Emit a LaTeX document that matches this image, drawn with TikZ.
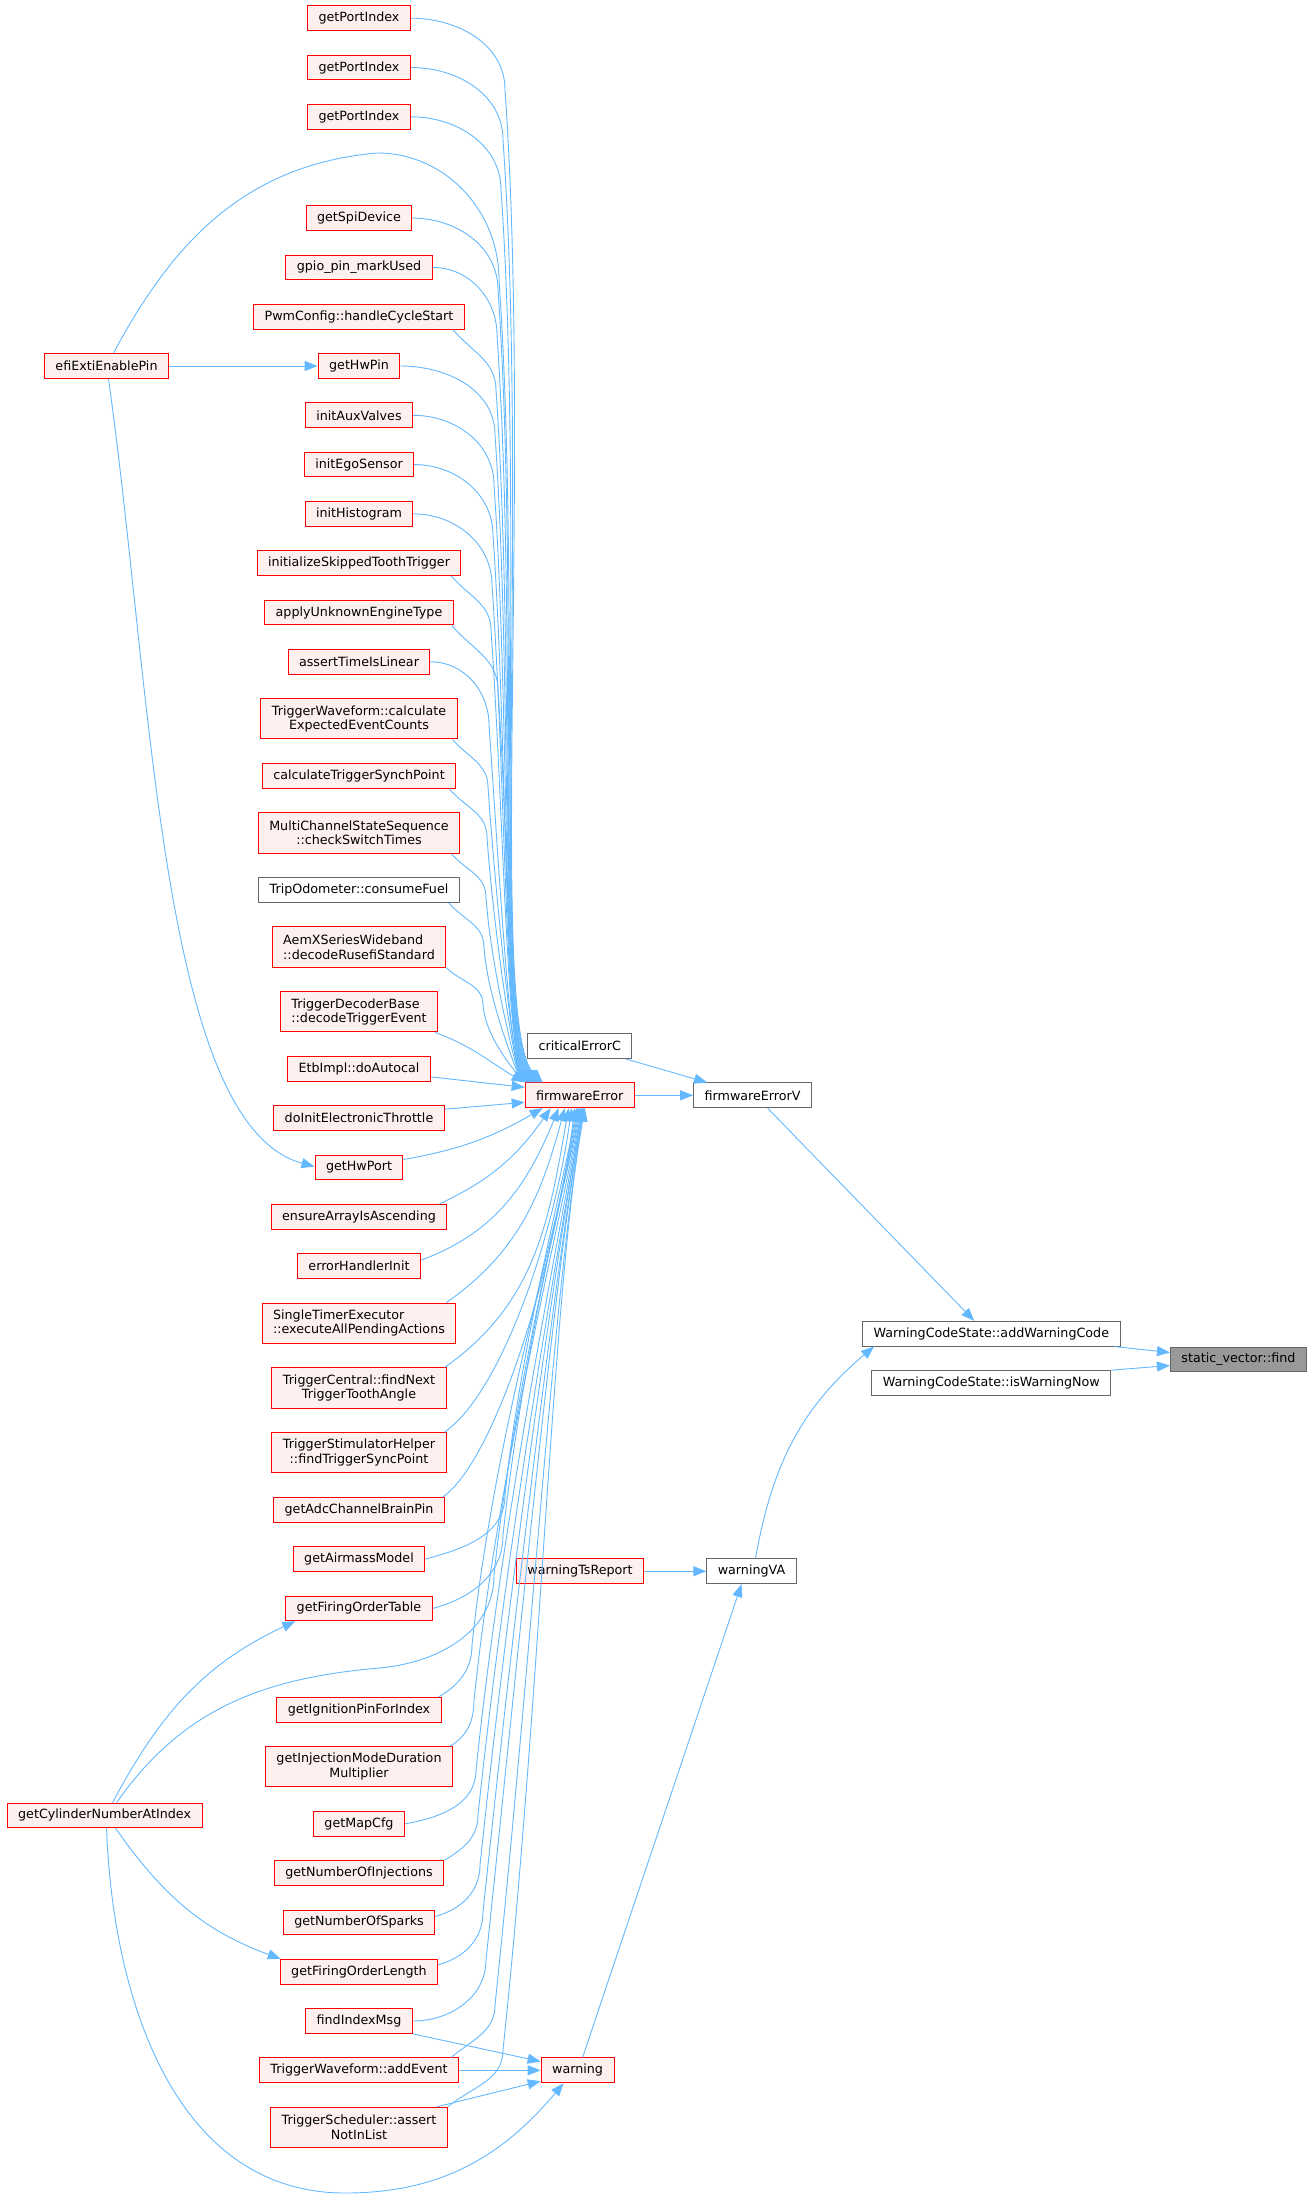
\documentclass[tikz,border=0pt]{standalone}
\usepackage{fontspec}
\setmainfont{DejaVu Sans}
\usepackage{tikz}
\usetikzlibrary{arrows.meta, positioning}
\definecolor{edgeblue}{HTML}{63B8FF}
\definecolor{nodered}{HTML}{FF0000}
\definecolor{fillred}{HTML}{FFF0F0}
\definecolor{greyline}{HTML}{666666}
\definecolor{rootfill}{HTML}{999999}
\tikzset{
	font={\fontsize{12.7}{14.6}\selectfont}}
\tikzstyle{fn_base} = [rectangle, minimum height=24.7pt, inner xsep=11pt, inner ysep=2pt, align=center, line width=1pt]
\tikzstyle{fn_red} = [fn_base, draw=nodered, fill=fillred]
\tikzstyle{fn_grey} = [fn_base, draw=greyline, fill=white]
\tikzstyle{fn_root} = [fn_base, draw=greyline, fill=rootfill]
\tikzstyle{two_line} = [minimum height=40.2pt]
\tikzstyle{arrow} = [line width=0.9pt, draw=edgeblue, -{Triangle[length=13pt, width=10pt]}]
\tikzstyle{turn_down} = [out=0, in=90]
\tikzstyle{into_top} = [out=-86, in=135, in looseness=0.2]
\tikzstyle{turn_up} = [out=0, in=-90]
\tikzstyle{into_bottom} = [out=84, in=-100, in looseness=0.5]

\begin{document}
\begin{tikzpicture}[x=1pt, y=1pt, node distance=23.6pt]
\useasboundingbox (0,0) rectangle (1313,-2198);

% callers, middle column
\node[fn_red] (gp1) at (359,-18.2) {getPortIndex};
\node[fn_red, below=of gp1] (gp2) {getPortIndex};
\node[fn_red, below=of gp2] (gp3) {getPortIndex};
\node[fn_red, below=75.6pt of gp3] (gspi) {getSpiDevice};
\node[fn_red, below=of gspi] (gpio) {gpio\_pin\_markUsed};
\node[fn_red, below=of gpio] (pwm) {PwmConfig::handleCycleStart};
\node[fn_red, below=of pwm] (ghpin) {getHwPin};
\node[fn_red, below=of ghpin] (iaux) {initAuxValves};
\node[fn_red, below=of iaux] (iego) {initEgoSensor};
\node[fn_red, below=of iego] (ihist) {initHistogram};
\node[fn_red, below=of ihist] (iskip) {initializeSkippedToothTrigger};
\node[fn_red, below=of iskip] (aunk) {applyUnknownEngineType};
\node[fn_red, below=of aunk] (atil) {assertTimeIsLinear};
\node[fn_red, two_line, below=of atil] (twce) {TriggerWaveform::calculate\\ExpectedEventCounts};
\node[fn_red, below=of twce] (ctsp) {calculateTriggerSynchPoint};
\node[fn_red, two_line, below=of ctsp] (mcss) {MultiChannelStateSequence\\::checkSwitchTimes};
\node[fn_grey, below=of mcss] (trip) {TripOdometer::consumeFuel};
\node[fn_red, two_line, align=left, below=of trip] (aemx) {AemXSeriesWideband\\::decodeRusefiStandard};
\node[fn_red, two_line, align=left, below=of aemx] (tdec) {TriggerDecoderBase\\::decodeTriggerEvent};
\node[fn_red, below=of tdec] (etb) {EtbImpl::doAutocal};
\node[fn_red, below=of etb] (doinit) {doInitElectronicThrottle};
\node[fn_red, below=of doinit] (ghport) {getHwPort};
\node[fn_red, below=of ghport] (ensure) {ensureArrayIsAscending};
\node[fn_red, below=of ensure] (ehi) {errorHandlerInit};
\node[fn_red, two_line, align=left, below=of ehi] (ste) {SingleTimerExecutor\\::executeAllPendingActions};
\node[fn_red, two_line, below=of ste] (tcn) {TriggerCentral::findNext\\TriggerToothAngle};
\node[fn_red, two_line, below=of tcn] (tsh) {TriggerStimulatorHelper\\::findTriggerSyncPoint};
\node[fn_red, below=of tsh] (gadc) {getAdcChannelBrainPin};
\node[fn_red, below=of gadc] (gam) {getAirmassModel};
\node[fn_red, below=of gam] (gfot) {getFiringOrderTable};
\node[fn_red, below=75.6pt of gfot] (gign) {getIgnitionPinForIndex};
\node[fn_red, two_line, below=of gign] (ginj) {getInjectionModeDuration\\Multiplier};
\node[fn_red, below=of ginj] (gmap) {getMapCfg};
\node[fn_red, below=of gmap] (gninj) {getNumberOfInjections};
\node[fn_red, below=of gninj] (gnsp) {getNumberOfSparks};
\node[fn_red, below=of gnsp] (gfol) {getFiringOrderLength};
\node[fn_red, below=of gfol] (fim) {findIndexMsg};
\node[fn_red, below=of fim] (addev) {TriggerWaveform::addEvent};
\node[fn_red, two_line, below=of addev] (tsch) {TriggerScheduler::assert\\NotInList};
% left column
\node[fn_red, left=148.6pt of ghpin] (efi) {efiExtiEnablePin};
\node[fn_red] (gcyl) at (104.6,-1815.4) {getCylinderNumberAtIndex};
% callees
\node[fn_red] (ferr) at (579.8,-1095.3) {firmwareError};
\node[fn_grey, above=of ferr] (cerr) {criticalErrorC};
\node[fn_grey, right=58.2pt of ferr] (ferrv) {firmwareErrorV};
\node[fn_red] (wtr) at (580,-1571.2) {warningTsReport};
\node[fn_grey, right=62.2pt of wtr] (wva) {warningVA};
\node[fn_red, right=81.6pt of addev] (warn) {warning};
\node[fn_grey] (awc) at (991.3,-1333.7) {WarningCodeState::addWarningCode};
\node[fn_grey, below=of awc] (iwn) {WarningCodeState::isWarningNow};
\node[fn_root] (svf) at (1238.4,-1359.5) {static\_vector::find};

% into firmwareError from above
\draw[arrow] (gp1.east) to[turn_down] (505,-90) to[into_top] ([xshift=18]ferr.north west);
\draw[arrow] (gp2.east) to[turn_down] (503,-140) to[into_top] ([xshift=17]ferr.north west);
\draw[arrow] (gp3.east) to[turn_down] (501,-190) to[into_top] ([xshift=16]ferr.north west);
\draw[arrow] ([xshift=7]efi.north) to[out=62,in=185] (377,-153) to[turn_down] (499,-280) to[into_top] ([xshift=15]ferr.north west);
\draw[arrow] (gspi.east) to[turn_down] (498,-290) to[into_top] ([xshift=14]ferr.north west);
\draw[arrow] (gpio.east) to[turn_down] (497,-335) to[into_top] ([xshift=13]ferr.north west);
\draw[arrow] ([xshift=-12]pwm.south east) to[turn_down, out=-50] (496,-390) to[into_top] ([xshift=12]ferr.north west);
\draw[arrow] (ghpin.east) to[turn_down] (495,-435) to[into_top] ([xshift=11]ferr.north west);
\draw[arrow] (iaux.east) to[turn_down] (494,-485) to[into_top] ([xshift=10]ferr.north west);
\draw[arrow] (iego.east) to[turn_down] (493,-535) to[into_top] ([xshift=9]ferr.north west);
\draw[arrow] (ihist.east) to[turn_down] (492,-585) to[into_top] ([xshift=8]ferr.north west);
\draw[arrow] ([xshift=-10]iskip.south east) to[turn_down, out=-50] (491,-630) to[into_top] ([xshift=7]ferr.north west);
\draw[arrow] ([xshift=-2]aunk.south east) to[turn_down, out=-50] (498,-690) to[into_top] ([xshift=6]ferr.north west);
\draw[arrow] (atil.east) to[turn_down] (489,-725) to[into_top] ([xshift=5]ferr.north west);
\draw[arrow] ([xshift=-5]twce.south east) to[turn_down, out=-50] (488,-787) to[into_top] ([xshift=5]ferr.north west);
\draw[arrow] ([xshift=-7]ctsp.south east) to[turn_down, out=-50] (487,-837) to[into_top] ([xshift=4]ferr.north west);
\draw[arrow] ([xshift=-9]mcss.south east) to[turn_down, out=-50] (486,-897) to[into_top] ([xshift=3]ferr.north west);
\draw[arrow] ([xshift=-11]trip.south east) to[turn_down, out=-50] (484,-947) to[into_top] ([xshift=2]ferr.north west);
\draw[arrow] (aemx.south east) to[turn_down, out=-45] (483,-1005) to[into_top] ([xshift=1]ferr.north west);
\draw[arrow] ([xshift=-3]tdec.south east) to[out=-20,in=150] (ferr.north west);
\draw[arrow] ([yshift=-8]etb.east) -- ([yshift=8]ferr.west);
\draw[arrow] ([yshift=9]doinit.east) -- ([yshift=-7]ferr.west);
% into firmwareError from below
\draw[arrow] ([yshift=8]ghport.east) to[out=10,in=-150] ([xshift=18]ferr.south west);
\draw[arrow] ([xshift=-8]ensure.north east) to[out=25,in=-125] ([xshift=26]ferr.south west);
\draw[arrow] ([yshift=6]ehi.east) to[out=20,in=-112] ([xshift=34]ferr.south west);
\draw[arrow] ([xshift=-10]ste.north east) to[out=35,in=-105] ([xshift=40]ferr.south west);
\draw[arrow] ([xshift=-2]tcn.north east) to[out=35,in=-100] ([xshift=44]ferr.south west);
\draw[arrow] ([xshift=-2]tsh.north east) to[out=35,in=-98,out looseness=.5] ([xshift=47]ferr.south west);
\draw[arrow] ([xshift=-2]gadc.north east) to[out=35,in=-97,out looseness=.4] ([xshift=50]ferr.south west);
\draw[arrow] (gam.east) to[turn_up, out=15] (505,-1495) to[into_bottom] ([xshift=52]ferr.south west);
\draw[arrow] (gfot.east) to[turn_up, out=15] (503,-1535) to[into_bottom] ([xshift=53]ferr.south west);
\draw[arrow] ([xshift=12]gcyl.north) to[out=55,in=185] (379,-1668) to[turn_up, out=5] (494,-1575) to[into_bottom] ([xshift=54]ferr.south west);
\draw[arrow] ([xshift=-3]gign.north east) to[turn_up, out=30] (472,-1645) to[into_bottom] ([xshift=55]ferr.south west);
\draw[arrow] ([xshift=-3]ginj.north east) to[turn_up, out=30] (474,-1700) to[into_bottom] ([xshift=56]ferr.south west);
\draw[arrow] (gmap.east) to[turn_up, out=10] (476,-1770) to[into_bottom] ([xshift=57]ferr.south west);
\draw[arrow] (gninj.north east) to[turn_up, out=30] (478,-1815) to[into_bottom] ([xshift=58]ferr.south west);
\draw[arrow] ([yshift=6]gnsp.east) to[turn_up, out=15] (480,-1865) to[into_bottom] ([xshift=58]ferr.south west);
\draw[arrow] ([yshift=7]gfol.east) to[turn_up, out=15] (483,-1912) to[into_bottom] ([xshift=59]ferr.south west);
\draw[arrow] (fim.east) to[turn_up] (486,-1960) to[into_bottom] ([xshift=59]ferr.south west);
\draw[arrow] ([xshift=-8]addev.north east) to[turn_up, out=40] (495,-2005) to[into_bottom] ([xshift=60]ferr.south west);
\draw[arrow] (tsch.north east) to[turn_up, out=40] (503,-2050) to[into_bottom] ([xshift=60]ferr.south west);
% left callers
\draw[arrow] (efi.east) -- (ghpin.west);
\draw[arrow] ([xshift=2]efi.south) to[out=-82,in=165,in looseness=.5] ([yshift=1]ghport.west);
\draw[arrow] ([xshift=8]gcyl.north) to[out=62,in=205] ([xshift=10]gfot.south west);
\draw[arrow] ([xshift=11]gcyl.south) to[out=-55,in=160] ([xshift=1]gfol.north west);
\draw[arrow] ([xshift=2]gcyl.south) to[out=-88,in=180] (345,-2193) to[out=0,in=-130] ([xshift=-14]warn.south);
% warning
\draw[arrow] (fim.south east) -- ([yshift=-4]warn.north west);
\draw[arrow] (addev.east) -- (warn.west);
\draw[arrow] ([xshift=-11]tsch.north east) -- ([yshift=2]warn.south west);
% right part
\draw[arrow] (ferr.east) -- (ferrv.west);
\draw[arrow] ([xshift=-7]cerr.south east) -- ([xshift=14]ferrv.north west);
\draw[arrow] ([xshift=15]ferrv.south) -- ([xshift=-17]awc.north);
\draw[arrow] (wtr.east) -- (wva.west);
\draw[arrow] ([xshift=5]warn.north) -- ([xshift=-10]wva.south);
\draw[arrow] ([xshift=4]wva.north) to[out=80,in=-140] ([xshift=12]awc.south west);
\draw[arrow] ([xshift=-6]awc.south east) -- ([yshift=7]svf.west);
\draw[arrow] (iwn.north east) -- ([yshift=-6]svf.west);

\end{tikzpicture}
\end{document}
